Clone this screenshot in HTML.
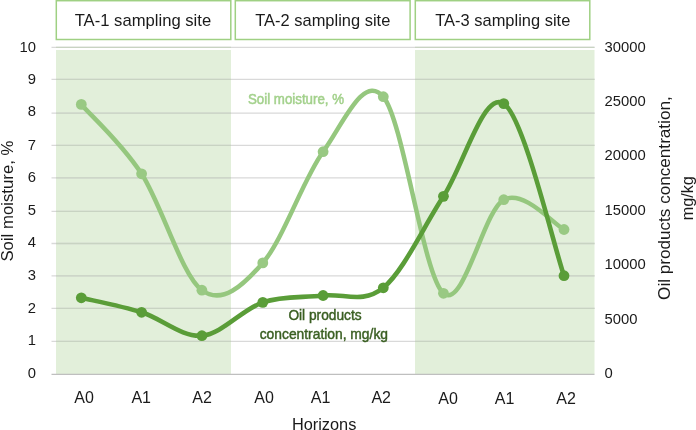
<!DOCTYPE html>
<html><head><meta charset="utf-8"><style>
html,body{margin:0;padding:0;background:#fff;width:696px;height:430px;overflow:hidden}
svg{display:block;filter:blur(0.3px);}
text{font-family:"Liberation Sans",sans-serif}
</style></head><body>
<svg width="696" height="430" viewBox="0 0 696 430">
<rect x="0" y="0" width="696" height="430" fill="#fff"/>
<rect x="56" y="50" width="175" height="324.3" fill="#E2EFDA"/>
<rect x="415" y="50" width="179.5" height="324.3" fill="#E2EFDA"/>
<g stroke="#D9D9D9" stroke-width="1.3"><line x1="51.5" x2="594.5" y1="341.40" y2="341.40"/><line x1="51.5" x2="594.5" y1="308.38" y2="308.38"/><line x1="51.5" x2="594.5" y1="275.96" y2="275.96"/><line x1="51.5" x2="594.5" y1="243.50" y2="243.50"/><line x1="51.5" x2="594.5" y1="211.38" y2="211.38"/><line x1="51.5" x2="594.5" y1="177.85" y2="177.85"/><line x1="51.5" x2="594.5" y1="145.43" y2="145.43"/><line x1="51.5" x2="594.5" y1="113.10" y2="113.10"/><line x1="51.5" x2="594.5" y1="79.35" y2="79.35"/><line x1="51.5" x2="594.5" y1="47.33" y2="47.33"/></g>
<g stroke="#C8D3C2" stroke-width="1.3"><line x1="56" x2="231" y1="341.40" y2="341.40"/><line x1="415" x2="594.5" y1="341.40" y2="341.40"/><line x1="56" x2="231" y1="308.38" y2="308.38"/><line x1="415" x2="594.5" y1="308.38" y2="308.38"/><line x1="56" x2="231" y1="275.96" y2="275.96"/><line x1="415" x2="594.5" y1="275.96" y2="275.96"/><line x1="56" x2="231" y1="243.50" y2="243.50"/><line x1="415" x2="594.5" y1="243.50" y2="243.50"/><line x1="56" x2="231" y1="211.38" y2="211.38"/><line x1="415" x2="594.5" y1="211.38" y2="211.38"/><line x1="56" x2="231" y1="177.85" y2="177.85"/><line x1="415" x2="594.5" y1="177.85" y2="177.85"/><line x1="56" x2="231" y1="145.43" y2="145.43"/><line x1="415" x2="594.5" y1="145.43" y2="145.43"/><line x1="56" x2="231" y1="113.10" y2="113.10"/><line x1="415" x2="594.5" y1="113.10" y2="113.10"/><line x1="56" x2="231" y1="79.35" y2="79.35"/><line x1="415" x2="594.5" y1="79.35" y2="79.35"/><line x1="56" x2="231" y1="47.33" y2="47.33"/><line x1="415" x2="594.5" y1="47.33" y2="47.33"/></g>
<line x1="51.5" x2="594.5" y1="374.35" y2="374.35" stroke="#BFBFBF" stroke-width="1.3"/>
<g fill="none" stroke="#9FD083" stroke-width="1.5">
<rect x="56.3" y="0.7" width="174.5" height="38.8"/>
<rect x="235.3" y="0.7" width="174.8" height="38.8"/>
<rect x="415.3" y="0.7" width="174.5" height="38.8"/>
</g>
<g fill="#1A1A1A" font-size="16.6">
<text x="74.7" y="25.8" textLength="136.5" lengthAdjust="spacingAndGlyphs">TA-1 sampling site</text>
<text x="255.3" y="25.8" textLength="135" lengthAdjust="spacingAndGlyphs">TA-2 sampling site</text>
<text x="435.3" y="25.8" textLength="135" lengthAdjust="spacingAndGlyphs">TA-3 sampling site</text>
</g>
<g fill="#1A1A1A" font-size="14.8"><text x="35.9" y="377.90" text-anchor="end">0</text><text x="35.9" y="345.35" text-anchor="end">1</text><text x="35.9" y="313.00" text-anchor="end">2</text><text x="35.9" y="280.35" text-anchor="end">3</text><text x="35.9" y="247.25" text-anchor="end">4</text><text x="35.9" y="214.70" text-anchor="end">5</text><text x="35.9" y="182.25" text-anchor="end">6</text><text x="35.9" y="149.75" text-anchor="end">7</text><text x="35.9" y="116.30" text-anchor="end">8</text><text x="35.9" y="83.80" text-anchor="end">9</text><text x="35.9" y="51.60" text-anchor="end">10</text><text x="604.6" y="377.90">0</text><text x="604.6" y="323.50">5000</text><text x="604.6" y="269.10">10000</text><text x="604.6" y="214.70">15000</text><text x="604.6" y="160.30">20000</text><text x="604.6" y="105.90">25000</text><text x="604.6" y="51.50">30000</text></g>
<g fill="#1A1A1A" font-size="16"><text x="84.0" y="403.0" text-anchor="middle">A0</text><text x="141.2" y="403.0" text-anchor="middle">A1</text><text x="202.0" y="403.0" text-anchor="middle">A2</text><text x="264.0" y="403.0" text-anchor="middle">A0</text><text x="320.5" y="403.0" text-anchor="middle">A1</text><text x="381.2" y="403.0" text-anchor="middle">A2</text><text x="448.0" y="404.1" text-anchor="middle">A0</text><text x="504.5" y="404.1" text-anchor="middle">A1</text><text x="566.0" y="404.1" text-anchor="middle">A2</text></g>
<text x="291.9" y="430.3" font-size="16.4" fill="#1A1A1A" textLength="64.5" lengthAdjust="spacingAndGlyphs">Horizons</text>
<text transform="translate(12.6,261.6) rotate(-90)" font-size="16.8" fill="#1A1A1A" textLength="121" lengthAdjust="spacingAndGlyphs">Soil moisture, %</text>
<text transform="translate(670.3,299.9) rotate(-90)" font-size="17" fill="#1A1A1A" textLength="203.6" lengthAdjust="spacingAndGlyphs">Oil products concentration,</text>
<text transform="translate(692.8,220.3) rotate(-90)" font-size="16.4" fill="#1A1A1A" textLength="44" lengthAdjust="spacingAndGlyphs">mg/kg</text>
<path d="M81.30,104.40 C91.35,115.97 121.50,142.83 141.60,173.80 C161.70,204.77 181.70,275.35 201.90,290.20 C222.10,305.05 242.60,285.98 262.80,262.90 C283.00,239.82 303.02,179.40 323.10,151.70 C343.18,124.00 363.24,73.10 383.30,96.70 C403.36,120.30 423.38,276.13 443.45,293.30 C463.52,310.47 483.66,210.33 503.75,199.70 C523.84,189.07 553.96,224.53 564.00,229.50" fill="none" stroke="#95C77E" stroke-width="4.5" stroke-linecap="round" stroke-linejoin="round"/>
<g fill="#99C983"><circle cx="81.30" cy="104.40" r="5.4"/><circle cx="141.60" cy="173.80" r="5.4"/><circle cx="201.90" cy="290.20" r="5.4"/><circle cx="262.80" cy="262.90" r="5.4"/><circle cx="323.10" cy="151.70" r="5.4"/><circle cx="383.30" cy="96.70" r="5.4"/><circle cx="443.45" cy="293.30" r="5.4"/><circle cx="503.75" cy="199.70" r="5.4"/><circle cx="564.00" cy="229.50" r="5.4"/></g>
<path d="M81.30,297.80 C91.35,300.22 121.50,305.98 141.60,312.30 C161.70,318.62 181.70,337.36 201.90,335.70 C222.10,334.04 242.60,309.05 262.80,302.35 C283.00,295.65 303.02,297.93 323.10,295.50 C343.18,293.07 363.24,304.32 383.30,287.80 C403.36,271.28 423.38,227.05 443.45,196.35 C463.52,165.65 483.66,90.38 503.75,103.60 C523.84,116.82 553.96,247.02 564.00,275.70" fill="none" stroke="#5A9D38" stroke-width="4.6" stroke-linecap="round" stroke-linejoin="round"/>
<g fill="#5A9D38"><circle cx="81.30" cy="297.80" r="5.4"/><circle cx="141.60" cy="312.30" r="5.4"/><circle cx="201.90" cy="335.70" r="5.4"/><circle cx="262.80" cy="302.35" r="5.4"/><circle cx="323.10" cy="295.50" r="5.4"/><circle cx="383.30" cy="287.80" r="5.4"/><circle cx="443.45" cy="196.35" r="5.4"/><circle cx="503.75" cy="103.60" r="5.4"/><circle cx="564.00" cy="275.70" r="5.4"/></g>
<text x="248" y="104.2" font-size="14" fill="#A3D18C" stroke="#A3D18C" stroke-width="0.5" textLength="96" lengthAdjust="spacingAndGlyphs">Soil moisture, %</text>
<g fill="#3A5F22" stroke="#3A5F22" stroke-width="0.45" font-size="14.2">
<text x="288.4" y="320.2" textLength="73.2" lengthAdjust="spacingAndGlyphs">Oil products</text>
<text x="259.7" y="338.6" textLength="128.3" lengthAdjust="spacingAndGlyphs">concentration, mg/kg</text>
</g>
</svg>
</body></html>
